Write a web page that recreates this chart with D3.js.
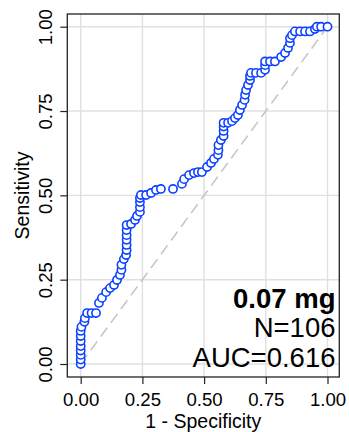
<!DOCTYPE html>
<html>
<head>
<meta charset="utf-8">
<script src="https://cdn.jsdelivr.net/npm/d3@7"></script>
<style>
  html, body { margin: 0; padding: 0; background: #fff; }
  svg { display: block; font-family: "Liberation Sans", Arial, Helvetica, sans-serif; }
</style>
</head>
<body>
<svg id="chart" width="349" height="432"></svg>
<script>
// ROC curve points: false positive rate (1 - specificity) and sensitivity
const fpr = [0, 0, 0, 0, 0, 0, 0, 0, 0.003, 0.015, 0.017, 0.026, 0.044, 0.062, 0.074, 0.086,
  0.103, 0.119, 0.135, 0.147, 0.159, 0.165, 0.165, 0.175, 0.184, 0.186, 0.186, 0.186, 0.186,
  0.186, 0.186, 0.204, 0.220, 0.228, 0.240, 0.240, 0.240, 0.240, 0.244, 0.265, 0.285, 0.305,
  0.325, 0.374, 0.410, 0.419, 0.439, 0.459, 0.475, 0.491, 0.512, 0.528, 0.540, 0.556, 0.558,
  0.558, 0.568, 0.579, 0.579, 0.579, 0.579, 0.597, 0.613, 0.625, 0.637, 0.645, 0.654, 0.664,
  0.666, 0.670, 0.678, 0.686, 0.686, 0.690, 0.710, 0.731, 0.747, 0.747, 0.747, 0.767, 0.787,
  0.812, 0.828, 0.840, 0.848, 0.848, 0.856, 0.868, 0.889, 0.909, 0.929, 0.949, 0.957, 0.974, 1];
const sensitivity = [0, 0.013, 0.027, 0.040, 0.053, 0.068, 0.083, 0.098, 0.110, 0.125, 0.136,
  0.151, 0.151, 0.151, 0.181, 0.196, 0.213, 0.225, 0.234, 0.249, 0.264, 0.279, 0.294, 0.311,
  0.323, 0.338, 0.353, 0.368, 0.382, 0.397, 0.412, 0.415, 0.427, 0.439, 0.451, 0.465, 0.480,
  0.492, 0.501, 0.501, 0.507, 0.516, 0.519, 0.519, 0.534, 0.548, 0.560, 0.566, 0.569, 0.569,
  0.584, 0.596, 0.608, 0.620, 0.634, 0.649, 0.664, 0.676, 0.691, 0.704, 0.715, 0.715, 0.720,
  0.729, 0.738, 0.753, 0.768, 0.783, 0.798, 0.812, 0.827, 0.842, 0.854, 0.863, 0.863, 0.863,
  0.872, 0.886, 0.897, 0.897, 0.897, 0.910, 0.922, 0.937, 0.952, 0.966, 0.975, 0.986, 0.986,
  0.986, 0.986, 0.993, 1, 1, 1];

const tickValues = [0, 0.25, 0.5, 0.75, 1];
const annotation = ["0.07 mg", "N=106", "AUC=0.616"];
const xTitle = "1 - Specificity";
const yTitle = "Sensitivity";

const svg = d3.select("#chart");

// plotting panel box
const panel = { left: 67.3, right: 339.3, top: 14, bottom: 377 };

const x = d3.scaleLinear().domain([0, 1]).range([80.7, 327.5]);
const y = d3.scaleLinear().domain([0, 1]).range([364, 26.7]);

// grid lines
const grid = svg.append("g");
grid.selectAll("line.v").data(tickValues).join("line")
  .attr("x1", d => x(d)).attr("x2", d => x(d))
  .attr("y1", panel.top).attr("y2", panel.bottom)
  .attr("stroke", "#e0e0e0").attr("stroke-width", 1.4);
grid.selectAll("line.h").data(tickValues).join("line")
  .attr("y1", d => y(d)).attr("y2", d => y(d))
  .attr("x1", panel.left).attr("x2", panel.right)
  .attr("stroke", "#e0e0e0").attr("stroke-width", 1.4);

// chance diagonal
svg.append("line")
  .attr("x1", x(0)).attr("y1", y(0)).attr("x2", x(1)).attr("y2", y(1))
  .attr("stroke", "#c4c4c4").attr("stroke-width", 1.5)
  .attr("stroke-dasharray", "11,6");

// ROC points
const pts = fpr.map((d, i) => ({ fx: d, sy: sensitivity[i] }));
svg.append("g").selectAll("circle").data(pts).join("circle")
  .attr("cx", d => x(d.fx)).attr("cy", d => y(d.sy)).attr("r", 4.1)
  .attr("fill", "#fff").attr("stroke", "#0a40ff").attr("stroke-width", 1.6);

// annotation block, bottom-right
const ann = svg.append("g").attr("text-anchor", "end").attr("fill", "#000");
ann.append("text").attr("x", 335.5).attr("y", 308).attr("font-size", 27.5)
  .attr("font-weight", "bold").text(annotation[0]);
ann.append("text").attr("x", 335.5).attr("y", 337).attr("font-size", 27.5).text(annotation[1]);
ann.append("text").attr("x", 335.5).attr("y", 366.5).attr("font-size", 27.5).text(annotation[2]);

// panel border
svg.append("rect")
  .attr("x", panel.left).attr("y", panel.top)
  .attr("width", panel.right - panel.left).attr("height", panel.bottom - panel.top)
  .attr("fill", "none").attr("stroke", "#222").attr("stroke-width", 1.3);

// axes
const fmt = d3.format(".2f");
const xAxis = svg.append("g").attr("transform", `translate(0,${panel.bottom})`)
  .call(d3.axisBottom(x).tickValues(tickValues).tickFormat(fmt).tickSize(7).tickPadding(9));
const yAxis = svg.append("g").attr("transform", `translate(${panel.left},0)`)
  .call(d3.axisLeft(y).tickValues(tickValues).tickFormat(fmt).tickSize(7).tickPadding(4));

[xAxis, yAxis].forEach(a => {
  a.select(".domain").remove();
  a.selectAll(".tick line").attr("stroke", "#222").attr("stroke-width", 1.2);
  a.selectAll(".tick text").attr("fill", "#000").attr("font-size", 18.6)
    .attr("font-family", "Liberation Sans, Arial, sans-serif");
});

// rotate y tick labels to read bottom-to-top
yAxis.selectAll(".tick text")
  .attr("transform", "rotate(-90)")
  .attr("x", 0).attr("y", -15.3)
  .attr("dy", 0)
  .attr("text-anchor", "middle");

// axis titles
svg.append("text").attr("x", (panel.left + panel.right) / 2).attr("y", 428)
  .attr("text-anchor", "middle").attr("font-size", 19.5).text(xTitle);
svg.append("text")
  .attr("transform", `translate(28.5,${(panel.top + panel.bottom) / 2}) rotate(-90)`)
  .attr("text-anchor", "middle").attr("font-size", 19.5).text(yTitle);
</script>
</body>
</html>
